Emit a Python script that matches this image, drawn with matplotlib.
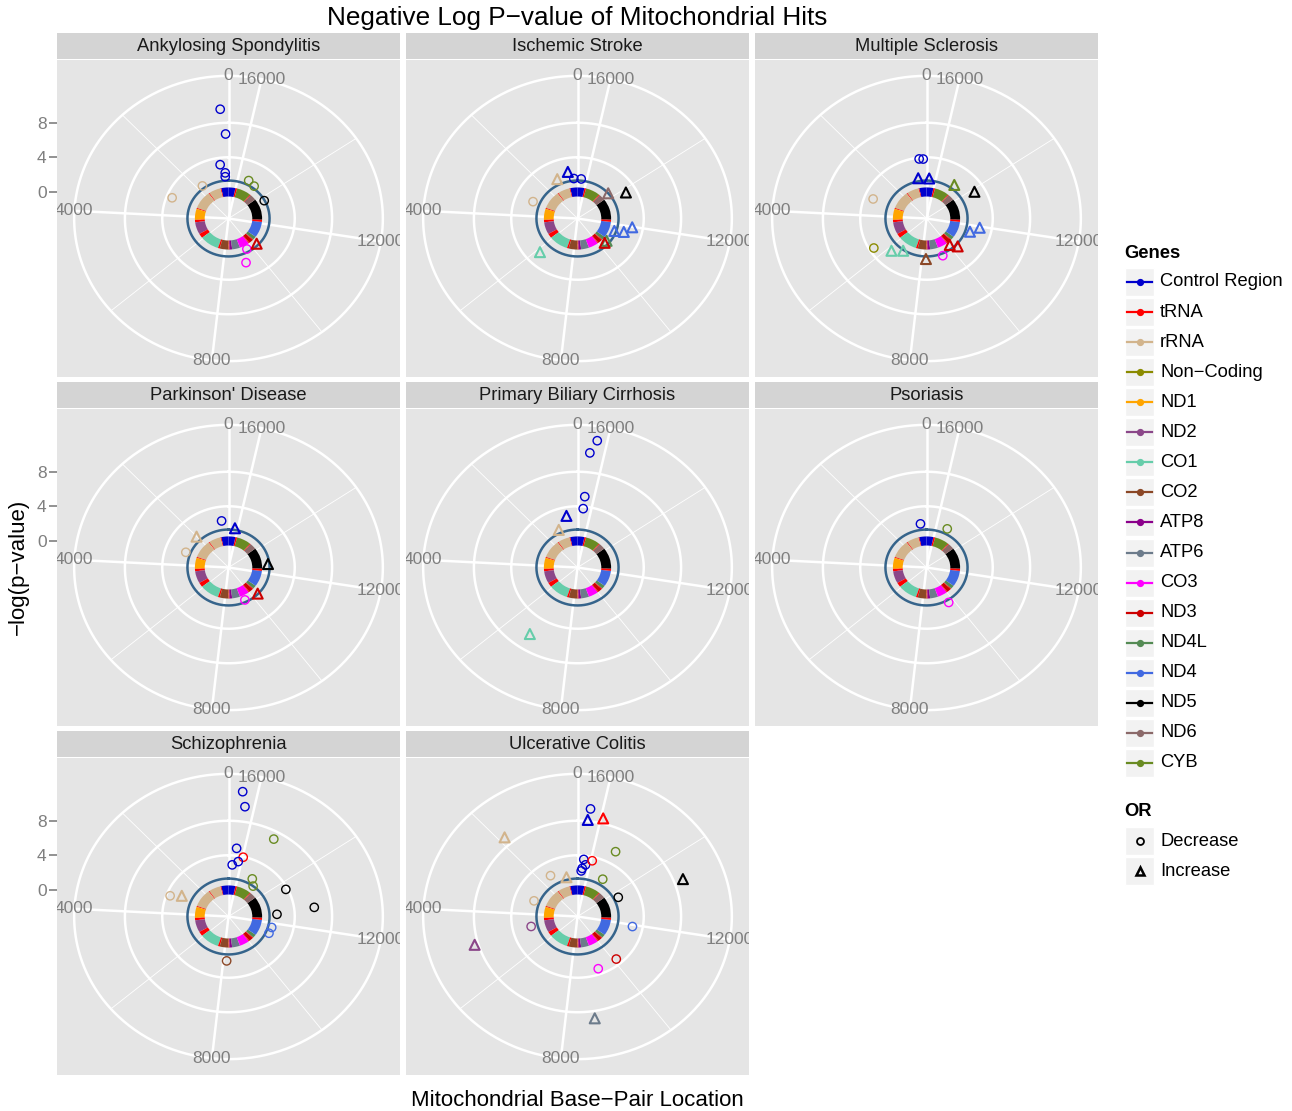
import numpy as np
import matplotlib
matplotlib.use('Agg')
import matplotlib.pyplot as plt
from matplotlib.patches import Rectangle

plt.rcParams['font.family'] = ['Liberation Sans', 'DejaVu Sans']

# ---- data ----
GENOME = 16569

gene_names = ['Control Region', 'tRNA', 'rRNA', 'Non\u2212Coding', 'ND1', 'ND2', 'CO1', 'CO2',
              'ATP8', 'ATP6', 'CO3', 'ND3', 'ND4L', 'ND4', 'ND5', 'ND6', 'CYB']
gene_colors = ['#0000CD', '#FF0000', '#D2B48C', '#8B8B00', '#FFA500', '#8B4789', '#66CDAA', '#8B4726',
               '#8B008B', '#6C7B8B', '#FF00FF', '#CD0000', '#548B54', '#4169E1', '#000000', '#8B6969',
               '#698B22']
gcol = dict(zip(gene_names, gene_colors))
gcol['Non-Coding'] = gcol['Non\u2212Coding']

# mitochondrial gene map (ring)
ring_start = [1, 577, 648, 1602, 1671, 3230, 3307, 4263, 4470, 5512, 5904, 7446, 7586, 8270, 8295,
              8366, 8573, 9207, 9991, 10059, 10405, 10470, 10767, 12138, 12337, 14149, 14674, 14747,
              15888, 16024]
ring_end = [576, 647, 1601, 1670, 3229, 3306, 4262, 4469, 5511, 5903, 7445, 7585, 8269, 8294, 8365,
            8572, 9206, 9990, 10058, 10404, 10469, 10766, 12137, 12337, 14148, 14673, 14746, 15887,
            16023, 16569]
ring_gene = ['Control Region', 'tRNA', 'rRNA', 'tRNA', 'rRNA', 'tRNA', 'ND1', 'tRNA', 'ND2', 'tRNA',
             'CO1', 'tRNA', 'CO2', 'Non-Coding', 'tRNA', 'ATP8', 'ATP6', 'CO3', 'tRNA', 'ND3', 'tRNA',
             'ND4L', 'ND4', 'tRNA', 'ND5', 'ND6', 'tRNA', 'CYB', 'tRNA', 'Control Region']

diseases = ['Ankylosing Spondylitis', 'Ischemic Stroke', 'Multiple Sclerosis', "Parkinson' Disease",
            'Primary Biliary Cirrhosis', 'Psoriasis', 'Schizophrenia', 'Ulcerative Colitis']

as_bp = [185, 84, 376, 175, 190, 3144, 1680, 15363, 14903, 13734, 10398, 9624, 9212]
as_logp = [9.6, 6.7, 3.2, 2.2, 1.75, 3.4, 1.6, 1.8, 1.55, 1.25, 1.1, 0.95, 2.35]
as_gene = ['Control Region'] * 5 + ['rRNA', 'rRNA', 'CYB', 'CYB', 'ND5', 'ND3', 'CO3', 'CO3']
as_or = ['D', 'D', 'D', 'D', 'D', 'D', 'D', 'D', 'D', 'D', 'I', 'D', 'D']

is_bp = [500, 224, 16341, 1169, 3116, 14341, 13816, 11503, 11625, 11972, 10600, 10398, 6173]
is_logp = [2.4, 1.55, 1.5, 1.95, 2.05, 1.3, 2.9, 1.1, 2.1, 2.85, 0.95, 0.95, 2.5]
is_gene = ['Control Region', 'Control Region', 'Control Region', 'rRNA', 'rRNA', 'ND6', 'ND5',
           'ND4', 'ND4', 'ND4', 'ND4L', 'ND3', 'CO1']
is_or = ['I', 'D', 'D', 'I', 'D', 'I', 'I', 'I', 'I', 'I', 'I', 'I', 'I']

ms_bp = [299, 135, 497, 16404, 14847, 13858, 3148, 11588, 11937, 10083, 10398, 9299, 8251, 6209,
         6729, 5580]
ms_logp = [3.85, 3.8, 1.65, 1.55, 1.8, 2.9, 3.05, 1.8, 2.7, 0.85, 1.55, 1.55, 1.6, 2.2, 1.4, 3.5]
ms_gene = ['Control Region'] * 4 + ['CYB', 'ND5', 'rRNA', 'ND4', 'ND4', 'ND3', 'ND3', 'CO3', 'CO2',
                                    'CO1', 'CO1', 'Non-Coding']
ms_or = ['D', 'D', 'I', 'I', 'I', 'I', 'D', 'I', 'I', 'I', 'I', 'D', 'I', 'I', 'I', 'D']

pd_bp = [359, 16173, 2012, 3171, 12675, 10398, 9437]
pd_logp = [2.35, 1.5, 1.85, 1.8, 1.15, 1.25, 1.05]
pd_gene = ['Control Region', 'Control Region', 'rRNA', 'rRNA', 'ND5', 'ND3', 'CO3']
pd_or = ['D', 'I', 'I', 'D', 'I', 'I', 'D']

pbc_bp = [16192, 16307, 16319, 16334, 515, 1137, 6743]
pbc_logp = [11.75, 10.25, 5.15, 3.75, 3.0, 1.7, 6.15]
pbc_gene = ['Control Region'] * 5 + ['rRNA', 'CO1']
pbc_or = ['D', 'D', 'D', 'D', 'I', 'I', 'I']

ps_bp = [335, 15354, 9684]
ps_logp = [2.0, 1.9, 1.6]
ps_gene = ['Control Region', 'CYB', 'CO3']
ps_or = ['D', 'D', 'D']

scz_bp = [16293, 16206, 15262, 16280, 15975, 16141, 16394, 15175, 14875, 13674, 12730, 12556, 11720,
          11318, 8183, 3176, 2964]
scz_logp = [11.45, 9.75, 7.1, 4.85, 3.95, 3.35, 2.9, 1.95, 1.3, 3.8, 6.15, 2.1, 1.7, 1.65, 2.05,
            3.6, 2.45]
scz_gene = ['Control Region', 'Control Region', 'CYB', 'Control Region', 'tRNA', 'Control Region',
            'Control Region', 'CYB', 'CYB', 'ND5', 'ND5', 'ND5', 'ND4', 'ND4', 'CO2', 'rRNA', 'rRNA']
scz_or = ['D'] * 16 + ['I']

uc_bp = [16275, 16311, 15943, 1860, 15257, 16302, 16192, 16330, 16371, 15939, 15096, 1445, 670, 3162,
         13669, 13393, 11912, 4745, 4906, 10130, 9212, 8694]
uc_logp = [9.45, 8.15, 8.6, 8.95, 5.45, 3.55, 2.95, 2.5, 2.2, 3.55, 2.0, 2.45, 1.6, 1.9, 1.8, 9.0,
           2.9, 2.0, 8.4, 3.35, 3.35, 8.85]
uc_gene = ['Control Region', 'Control Region', 'tRNA', 'rRNA', 'CYB', 'Control Region',
           'Control Region', 'Control Region', 'Control Region', 'tRNA', 'CYB', 'rRNA', 'rRNA', 'rRNA',
           'ND5', 'ND5', 'ND4', 'ND2', 'ND2', 'ND3', 'CO3', 'ATP6']
uc_or = ['D', 'I', 'I', 'I', 'D', 'D', 'D', 'D', 'D', 'D', 'D', 'D', 'I', 'D', 'D', 'I', 'D', 'D',
         'I', 'D', 'D', 'I']

hits = [(as_bp, as_logp, as_gene, as_or), (is_bp, is_logp, is_gene, is_or),
        (ms_bp, ms_logp, ms_gene, ms_or), (pd_bp, pd_logp, pd_gene, pd_or),
        (pbc_bp, pbc_logp, pbc_gene, pbc_or), (ps_bp, ps_logp, ps_gene, ps_or),
        (scz_bp, scz_logp, scz_gene, scz_or), (uc_bp, uc_logp, uc_gene, uc_or)]

theta_breaks = [0, 4000, 8000, 12000, 16000]
theta_minor = [2000, 6000, 10000, 14000]
r_breaks = [0, 4, 8]
threshold = 1.3   # -log10(0.05)

# ---- layout ----
FW, FH = 1292, 1111
PW, PH = 343, 317
PANEL_X = [57, 406, 755]
PANEL_Y = [60, 409, 758]
Y_LO, Y_HI = -3.1, 11.6
R_TOP = Y_LO + (Y_HI - Y_LO) * 1.25
R_OUT = Y_LO + (Y_HI - Y_LO) * 1.125
GRID = 'white'
TXT_GREY = '#7F7F7F'


def to_theta(bp):
    return np.asarray(bp, dtype=float) / GENOME * 2 * np.pi


fig = plt.figure(figsize=(FW / 100, FH / 100), dpi=100)
theta_fine = np.linspace(0, 2 * np.pi, 400)

for i, name in enumerate(diseases):
    col, row = i % 3, i // 3
    x0, y0 = PANEL_X[col], PANEL_Y[row]
    rect = [x0 / FW, 1 - (y0 + PH) / FH, PW / FW, PH / FH]

    # background panel carrying the radial axis ticks
    bg = fig.add_axes(rect)
    bg.set_facecolor('#E5E5E5')
    bg.set_xlim(0, 1)
    bg.set_ylim(2 * Y_LO - R_TOP, R_TOP)
    for s in bg.spines.values():
        s.set_visible(False)
    bg.set_xticks([])
    if col == 0:
        bg.set_yticks(r_breaks)
        bg.tick_params(axis='y', direction='out', length=5.5, width=1.2, color=TXT_GREY,
                       labelcolor=TXT_GREY, labelsize=12.5, pad=2)
    else:
        bg.set_yticks([])

    # strip
    st = fig.add_axes([x0 / FW, 1 - (y0 - 1) / FH, PW / FW, 26 / FH])
    st.set_facecolor('#D4D4D4')
    st.set_xticks([])
    st.set_yticks([])
    for s in st.spines.values():
        s.set_visible(False)
    st.text(0.5, 0.47, name, ha='center', va='center', fontsize=13.2, color='#1A1A1A',
            transform=st.transAxes)

    # polar overlay
    ax = fig.add_axes(rect, projection='polar')
    ax.set_aspect('auto')
    ax.patch.set_visible(False)
    ax.set_theta_zero_location('N')
    ax.set_theta_direction(1)
    ax.set_ylim(Y_LO, R_TOP)
    ax.grid(False)
    ax.set_xticks([])
    ax.set_yticks([])
    for s in ax.spines.values():
        s.set_visible(False)

    for b in theta_minor:
        t = to_theta(b)
        ax.plot([t, t], [Y_LO, R_OUT], color=GRID, lw=0.6, zorder=1)
    for r in r_breaks + [R_OUT]:
        ax.plot(theta_fine, np.full_like(theta_fine, r), color=GRID, lw=1.8, zorder=1)
    for b in theta_breaks:
        t = to_theta(b)
        ax.plot([t, t], [Y_LO, R_OUT], color=GRID, lw=1.8, zorder=1)
        lab = ax.text(t, R_OUT, str(b), ha='center', va='center', color=TXT_GREY, fontsize=12.5,
                      zorder=2, clip_on=True)
        lab.set_clip_box(bg.bbox)

    # gene ring
    ts = to_theta(ring_start)
    te = to_theta(ring_end)
    ax.bar(ts, 1.05, width=te - ts, bottom=-0.55, align='edge',
           color=[gcol[g] for g in ring_gene], linewidth=0, zorder=3)

    # significance circle
    ax.plot(theta_fine, np.full_like(theta_fine, threshold), color='#36648B', lw=1.8, zorder=4)

    bp, logp, gene, odds = hits[i]
    bp = np.array(bp)
    logp = np.array(logp)
    cols = np.array([gcol[g] for g in gene])
    odds = np.array(odds)
    dec = odds == 'D'
    inc = odds == 'I'
    ax.scatter(to_theta(bp[dec]), logp[dec], s=36, marker='o', facecolors='none',
               edgecolors=cols[dec], linewidths=1.0, zorder=5, clip_on=False)
    ax.scatter(to_theta(bp[inc]), logp[inc], s=52, marker='^', facecolors='none',
               edgecolors=cols[inc], linewidths=1.5, zorder=5, clip_on=False)

# titles
fig.text(577 / FW, 1 - 18 / FH, 'Negative Log P\u2212value of Mitochondrial Hits', ha='center',
         va='center', fontsize=18.8)
fig.text(18 / FW, 1 - 567 / FH, '\u2212log(p\u2212value)', rotation=90, ha='center', va='center',
         fontsize=16)
fig.text(577 / FW, 1 - 1101 / FH, 'Mitochondrial Base\u2212Pair Location', ha='center',
         va='center', fontsize=16)

# legend drawn in pixel space
lg = fig.add_axes([0, 0, 1, 1])
lg.set_xlim(0, FW)
lg.set_ylim(FH, 0)
lg.axis('off')

lg.text(1124, 253, 'Genes', fontsize=13.2, fontweight='bold', va='center', ha='left')
step = 30.06
for k, (g, c) in enumerate(zip(gene_names, gene_colors)):
    yc = 282 + k * step
    lg.add_patch(Rectangle((1125, yc - 14), 29, 28, facecolor='#F2F2F2', edgecolor='white', lw=1))
    lg.plot([1127, 1152], [yc, yc], color=c, lw=1.6)
    lg.plot([1139.5], [yc], marker='o', ms=4.2, color=c)
    lg.text(1160, yc, g, fontsize=13.2, va='center', ha='left')

lg.text(1124, 812, 'OR', fontsize=13.2, fontweight='bold', va='center', ha='left')
or_labels = ['Decrease', 'Increase']
or_markers = ['o', '^']
for k, (lab, mk) in enumerate(zip(or_labels, or_markers)):
    yc = 841 + k * step
    lg.add_patch(Rectangle((1125, yc - 14), 29, 28, facecolor='#F2F2F2', edgecolor='white', lw=1))
    lg.plot([1139.5], [yc], marker=mk, ms=5 if mk == 'o' else 6, mfc='none', mec='black',
            mew=1.3 if mk == 'o' else 1.8, ls='none')
    lg.text(1160, yc, lab, fontsize=13.2, va='center', ha='left')

fig.savefig('out.png', dpi=100)
